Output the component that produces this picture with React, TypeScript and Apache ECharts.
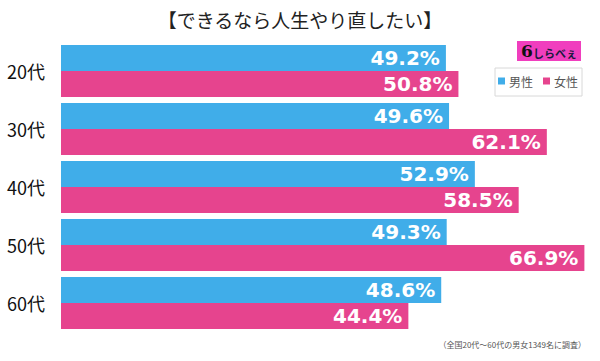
import React, { useEffect, useRef } from "react";
import * as echarts from "echarts";

const categories = ["20代", "30代", "40代", "50代", "60代"];
const maleValues = [49.2, 49.6, 52.9, 49.3, 48.6];
const femaleValues = [50.8, 62.1, 58.5, 66.9, 44.4];
const seriesNames = ["男性", "女性"];
const titleText = "【できるなら人生やり直したい】";
const noteText = "（全国20代～60代の男女1349名に調査）";

const BLUE = "#40ADE9";
const PINK = "#E6448E";

export default function App() {
  const ref = useRef<HTMLDivElement>(null);
  useEffect(() => {
    document.body.style.margin = "0";
    const chart = echarts.init(ref.current!, null, { renderer: "svg" });
    const label = {
      show: true,
      position: "insideRight",
      distance: 6,
      color: "#fff",
      fontSize: 20,
      lineHeight: 22,
      fontWeight: "bold",
      fontFamily: "'DejaVu Sans', 'Noto Sans', sans-serif",
      formatter: (p: any) => Number(p.value).toFixed(1) + "%",
    };
    chart.setOption({
      animation: false,
      backgroundColor: "#fff",
      title: {
        text: titleText,
        left: "center",
        top: 5,
        textStyle: {
          fontSize: 19,
          fontWeight: "normal",
          color: "#222",
          fontFamily: "'Noto Sans CJK JP', sans-serif",
        },
      },
      legend: {
        data: seriesNames,
        left: 498,
        top: 75,
        icon: "rect",
        itemWidth: 7,
        itemHeight: 7,
        itemGap: 10,
        padding: 0,
        textStyle: {
          fontSize: 12,
          color: "#555",
          fontFamily: "'Noto Sans CJK JP', sans-serif",
          padding: [0, 0, 0, -1],
        },
      },
      grid: { left: 61, right: 7, top: 42, bottom: 29, containLabel: false },
      xAxis: {
        type: "value",
        min: 0,
        max: 68,
        show: false,
      },
      yAxis: {
        type: "category",
        data: categories,
        inverse: true,
        axisLine: { show: false },
        axisTick: { show: false },
        axisLabel: {
          fontSize: 18,
          color: "#111",
          margin: 16,
          fontFamily: "'Noto Sans CJK JP', sans-serif",
        },
      },
      series: [
        {
          name: seriesNames[0],
          type: "bar",
          data: maleValues,
          barWidth: 26,
          barGap: "0%",
          itemStyle: { color: BLUE },
          label,
        },
        {
          name: seriesNames[1],
          type: "bar",
          data: femaleValues,
          barWidth: 26,
          barGap: "0%",
          itemStyle: { color: PINK },
          label,
        },
      ],
      graphic: [
        {
          type: "rect",
          shape: { x: 495, y: 68, width: 87, height: 28 },
          style: { fill: "none", stroke: "#d8d8d8", lineWidth: 1 },
          z: -1,
        },
        {
          type: "rect",
          shape: { x: 517, y: 41, width: 64, height: 20 },
          style: { fill: "#F03EBE" },
        },
        {
          type: "text",
          x: 521,
          y: 51,
          style: {
            text: "6",
            fontSize: 17,
            fontWeight: "bold",
            fill: "#111",
            verticalAlign: "middle",
            fontFamily: "'DejaVu Serif', serif",
          },
        },
        {
          type: "text",
          x: 533,
          y: 53,
          style: {
            text: "しらべぇ",
            fontSize: 11,
            fontWeight: "bold",
            fill: "#1a1a40",
            verticalAlign: "middle",
            fontFamily: "'Noto Sans CJK JP', sans-serif",
          },
        },
        {
          type: "text",
          x: 586,
          y: 344,
          style: {
            text: noteText,
            fontSize: 8,
            fill: "#555",
            align: "right",
            verticalAlign: "middle",
            fontFamily: "'Noto Sans CJK JP', sans-serif",
          },
        },
      ],
    });
    return () => chart.dispose();
  }, []);
  return <div ref={ref} style={{ width: 600, height: 361 }} />;
}
